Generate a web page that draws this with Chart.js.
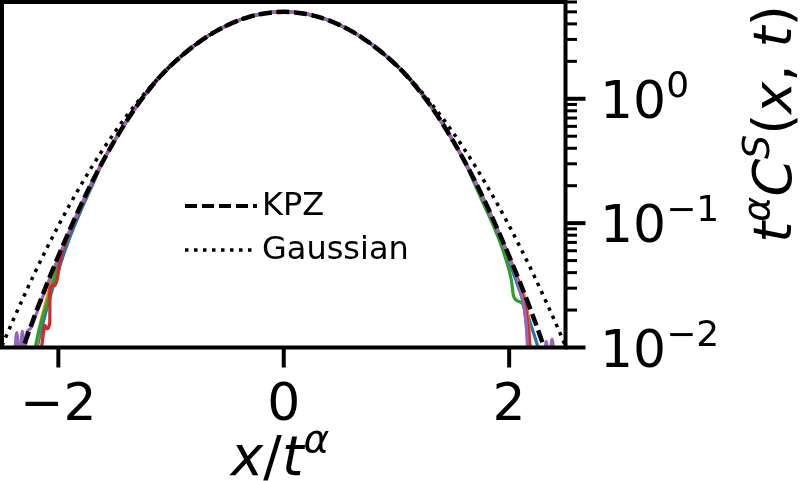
<!DOCTYPE html>
<html><head><meta charset="utf-8">
<script src="https://cdn.jsdelivr.net/npm/chart.js@4/dist/chart.umd.min.js"></script>
<style>html,body{margin:0;padding:0;background:#fff;}canvas{display:block;}</style>
</head><body>
<canvas id="c" width="800" height="481"></canvas>
<script>
// ---- data ----
const xGrid = [-2.5,-2.4,-2.3,-2.2,-2.1,-2.0,-1.9,-1.8,-1.7,-1.6,-1.5,-1.4,-1.3,-1.2,-1.1,-1.0,-0.9,-0.8,-0.7,-0.6,-0.5,-0.4,-0.3,-0.2,-0.1,0,
  0.1,0.2,0.3,0.4,0.5,0.6,0.7,0.8,0.9,1.0,1.1,1.2,1.3,1.4,1.5,1.6,1.7,1.8,1.9,2.0,2.1,2.2,2.3,2.4,2.5];
const kpzValues = [0.00316,0.00589,0.0107,0.0191,0.0327,0.0543,0.0881,0.140,0.215,0.320,0.462,0.650,0.887,1.17,1.50,1.86,2.24,2.65,3.08,3.50,3.90,4.27,4.57,4.81,4.95,5.00,
  4.95,4.81,4.57,4.27,3.90,3.50,3.08,2.65,2.24,1.86,1.50,1.17,0.887,0.650,0.462,0.320,0.215,0.140,0.0881,0.0543,0.0327,0.0191,0.0107,0.00589,0.00316];
const gaussValues = [0.0103,0.0167,0.0265,0.0415,0.0635,0.0953,0.140,0.202,0.286,0.396,0.538,0.718,0.938,1.20,1.51,1.86,2.24,2.65,3.08,3.50,3.91,4.27,4.57,4.81,4.95,5.00,
  4.95,4.81,4.57,4.27,3.91,3.50,3.08,2.65,2.24,1.86,1.51,1.20,0.938,0.718,0.538,0.396,0.286,0.202,0.140,0.0953,0.0635,0.0415,0.0265,0.0167,0.0103];

// measured curves: common core (|x| <= 1.6) and individual tails
const coreX = [-1.6,-1.5,-1.4,-1.3,-1.2,-1.1,-1.0,-0.9,-0.8,-0.7,-0.6,-0.5,-0.4,-0.3,-0.2,-0.1,0,0.1,0.2,0.3,0.4,0.5,0.6,0.7,0.8,0.9,1.0,1.1,1.2,1.3,1.4,1.5,1.6];
const coreValues = [0.320,0.462,0.650,0.887,1.17,1.50,1.86,2.24,2.65,3.08,3.50,3.90,4.27,4.57,4.81,4.95,5.00,4.95,4.81,4.57,4.27,3.90,3.50,3.08,2.65,2.24,1.86,1.50,1.17,0.887,0.650,0.462,0.320];

const blueLeftX = [-2.25,-2.2,-2.1,-2.0,-1.9,-1.8,-1.7];
const blueLeftY = [0.00501,0.00891,0.0209,0.0417,0.0759,0.126,0.200];
const blueRightX = [1.7,1.8,1.9,2.0,2.1,2.2,2.27,2.3];
const blueRightY = [0.209,0.135,0.0832,0.0490,0.0275,0.0145,0.00891,0.00631];

const orangeLeftX = [-2.22,-2.2,-2.1,-2.0,-1.9,-1.8,-1.7];
const orangeLeftY = [0.00501,0.00891,0.0251,0.0501,0.0851,0.138,0.214];
const orangeRightX = [1.7,1.8,1.9,2.0,2.1,2.15,2.18,2.2];
const orangeRightY = [0.214,0.138,0.0871,0.0525,0.0316,0.0224,0.0126,0.00501];

const greenLeftX = [-2.25,-2.23,-2.2,-2.1,-2.0,-1.9,-1.8,-1.7];
const greenLeftY = [0.00398,0.00631,0.0105,0.0224,0.0468,0.0832,0.135,0.209];
const greenRightX = [1.7,1.8,1.86,1.96,2.02,2.04,2.09,2.13,2.16,2.18,2.2];
const greenRightY = [0.200,0.126,0.0955,0.0550,0.0347,0.0257,0.0234,0.0214,0.0129,0.00794,0.00501];

const redLeftX = [-2.2,-2.148,-2.118,-2.10,-2.076,-2.074,-2.03,-1.97,-1.9,-1.8,-1.7];
const redLeftY = [0.00501,0.0102,0.0151,0.0141,0.0158,0.0302,0.0316,0.0562,0.0832,0.135,0.209];
const redRightX = [1.7,1.8,1.9,2.0,2.1,2.15,2.18,2.2];
const redRightY = [0.214,0.138,0.0871,0.0537,0.0302,0.0200,0.0112,0.00631];

const purpleLeftX = [-2.42,-2.39,-2.37,-2.34,-2.32,-2.30,-2.28,-2.25,-2.2,-2.1,-2.0,-1.9,-1.8,-1.7];
const purpleLeftY = [0.00501,0.00794,0.0132,0.00794,0.0135,0.00891,0.0132,0.0141,0.0182,0.0316,0.0525,0.0871,0.138,0.214];
const purpleRightX = [1.7,1.8,1.9,2.0,2.1,2.15,2.17,2.2,2.25,2.3,2.33,2.35,2.38,2.41,2.44];
const purpleRightY = [0.214,0.138,0.0871,0.0525,0.0282,0.0158,0.00794,0.00501,0.00794,0.00631,0.0112,0.00631,0.0117,0.00631,0.00398];

const xTicks = [-2, 0, 2];
const xTickLabels = ['\u22122', '0', '2'];
const yMajorTicks = [1, 0.1, 0.01];
const yTickExponents = ['0', '\u22121', '\u22122'];
const yMinorTicks = [0.02,0.03,0.04,0.05,0.06,0.07,0.08,0.09,0.2,0.3,0.4,0.5,0.6,0.7,0.8,0.9,2,3,4,5,6];
const legendLabels = ['KPZ', 'Gaussian'];

// ---- build ----
function pts(xs, ys){ return xs.map((x,i)=>({x:x, y:ys[i]})); }
function series(lx, ly, rx, ry){ return pts(lx, ly).concat(pts(coreX, coreValues), pts(rx, ry)); }

const FONT = '"DejaVu Sans", sans-serif';
const dataStyle = {borderWidth:3.2, pointRadius:0, fill:false, cubicInterpolationMode:'monotone'};

const datasets = [
  Object.assign({label:'Gaussian', data:pts(xGrid, gaussValues), borderColor:'#000', borderDash:[3.5,5.5]}, dataStyle, {borderWidth:3.5}),
  Object.assign({label:'KPZ', data:pts(xGrid, kpzValues), borderColor:'#000', borderDash:[12.5,5]}, dataStyle, {borderWidth:4.5}),
  Object.assign({label:'s5', data:series(purpleLeftX,purpleLeftY,purpleRightX,purpleRightY), borderColor:'#9467bd'}, dataStyle),
  Object.assign({label:'s4', data:series(redLeftX,redLeftY,redRightX,redRightY), borderColor:'#d62728'}, dataStyle),
  Object.assign({label:'s3', data:series(greenLeftX,greenLeftY,greenRightX,greenRightY), borderColor:'#2ca02c'}, dataStyle),
  Object.assign({label:'s2', data:series(orangeLeftX,orangeLeftY,orangeRightX,orangeRightY), borderColor:'#ff7f0e'}, dataStyle),
  Object.assign({label:'s1', data:series(blueLeftX,blueLeftY,blueRightX,blueRightY), borderColor:'#1f77b4'}, dataStyle)
];

function drawRich(ctx, parts, x, y, align){
  let w = 0;
  parts.forEach(p => { ctx.font = (p[2] ? 'italic ' : '') + p[1] + 'px ' + FONT; p.w = ctx.measureText(p[0]).width; w += p.w; });
  let cx = align === 'center' ? x - w/2 : x;
  ctx.textAlign = 'left'; ctx.textBaseline = 'alphabetic';
  parts.forEach(p => { ctx.font = (p[2] ? 'italic ' : '') + p[1] + 'px ' + FONT; ctx.fillText(p[0], cx, y - p[3]); cx += p.w; });
}

const decor = {
  id:'decor',
  afterDraw(chart){
    const ctx = chart.ctx, a = chart.chartArea, xs = chart.scales.x, ys = chart.scales.y;
    ctx.save();
    ctx.strokeStyle = '#000'; ctx.fillStyle = '#000';
    // frame
    ctx.lineWidth = 4; ctx.setLineDash([]);
    ctx.strokeRect(a.left, a.top, a.right - a.left, a.bottom - a.top);
    // x ticks
    xTicks.forEach((v,i) => {
      const px = xs.getPixelForValue(v);
      ctx.lineWidth = 4; ctx.beginPath(); ctx.moveTo(px, a.bottom); ctx.lineTo(px, a.bottom + 20); ctx.stroke();
      ctx.font = '52px ' + FONT; ctx.textAlign = 'center'; ctx.textBaseline = 'alphabetic';
      ctx.fillText(xTickLabels[i], px, 420);
    });
    // y ticks
    yMinorTicks.forEach(v => {
      const py = ys.getPixelForValue(v);
      ctx.lineWidth = 3; ctx.beginPath(); ctx.moveTo(a.right, py); ctx.lineTo(a.right + 11.5, py); ctx.stroke();
    });
    yMajorTicks.forEach((v,i) => {
      const py = ys.getPixelForValue(v);
      ctx.lineWidth = 4; ctx.beginPath(); ctx.moveTo(a.right, py); ctx.lineTo(a.right + 20, py); ctx.stroke();
      drawRich(ctx, [['10',52,false,0],[yTickExponents[i],36,false,21]], 600, py + 19, 'left');
    });
    // axis titles
    drawRich(ctx, [['x',55,true,0],['/',55,false,0],['t',55,true,0],['\u03b1',39,true,23]], 280, 475, 'center');
    ctx.save();
    ctx.translate(791, 124); ctx.rotate(-Math.PI/2);
    drawRich(ctx, [['t',54,true,0],['\u03b1',38,true,22],['C',54,true,0],['S',38,true,22],['(',54,false,0],['x',54,true,0],[', ',54,false,0],['t',54,true,0],[')',54,false,0]], 0, 0, 'center');
    ctx.restore();
    // legend
    const rows = [206, 250];
    ctx.lineWidth = 4; ctx.setLineDash([12,5]);
    ctx.beginPath(); ctx.moveTo(185, rows[0]); ctx.lineTo(257, rows[0]); ctx.stroke();
    ctx.lineWidth = 3.5; ctx.setLineDash([3.5,5.5]);
    ctx.beginPath(); ctx.moveTo(185, rows[1]); ctx.lineTo(257, rows[1]); ctx.stroke();
    ctx.setLineDash([]);
    ctx.font = '32px ' + FONT; ctx.textAlign = 'left'; ctx.textBaseline = 'middle';
    legendLabels.forEach((t,i) => ctx.fillText(t, 262, rows[i] + 1));
    ctx.restore();
  }
};

new Chart(document.getElementById('c'), {
  type:'line',
  data:{datasets:datasets},
  options:{
    responsive:false, animation:false, devicePixelRatio:1,
    layout:{padding:{left:2, top:2, right:0, bottom:0}},
    plugins:{legend:{display:false}, tooltip:{enabled:false}},
    scales:{
      x:{type:'linear', min:-2.5, max:2.5, grid:{display:false}, border:{display:false}, ticks:{display:false},
         afterFit(s){ s.height = 133.5; }},
      y:{type:'logarithmic', position:'right', min:0.01, max:6, grid:{display:false}, border:{display:false}, ticks:{display:false},
         afterFit(s){ s.width = 234.5; }}
    }
  },
  plugins:[decor]
});
</script>
</body></html>
